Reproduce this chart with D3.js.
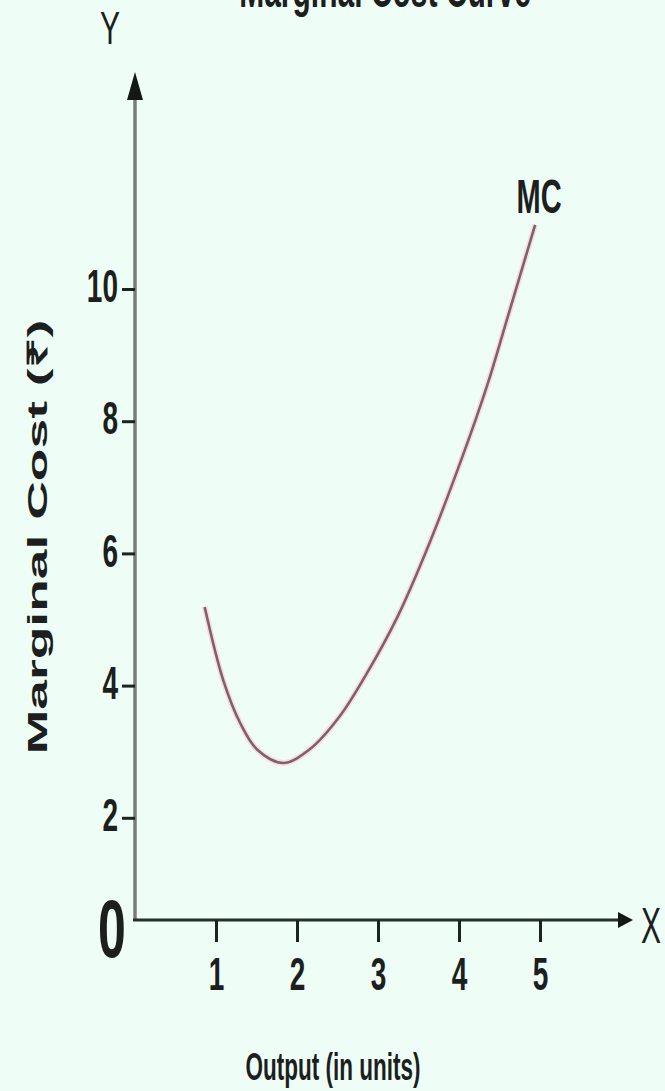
<!DOCTYPE html>
<html>
<head>
<meta charset="utf-8">
<script src="https://cdn.jsdelivr.net/npm/d3@7"></script>
<style>
  html, body { margin: 0; padding: 0; background: #eefef6; }
  svg { display: block; }
  text { font-family: "Liberation Sans", Arial, sans-serif; fill: #1c1f1e; }
</style>
</head>
<body>
<svg id="chart" width="665" height="1091"></svg>
<script>
// ---- data ----
const title = "Marginal Cost Curve";
const xTitle = "Output (in units)";
const yTitle = "Marginal Cost (₹)";
const xTicks = [1, 2, 3, 4, 5];
const yTicks = [2, 4, 6, 8, 10];
const output = [0.86, 1.09, 1.30, 1.51, 1.83, 2.16, 2.53, 2.86, 3.24, 3.64, 4.05, 4.35, 4.59, 4.94];
const mc     = [5.19, 4.08, 3.43, 3.03, 2.83, 3.04, 3.54, 4.18, 5.04, 6.17, 7.49, 8.55, 9.53, 10.97];
const curveLabel = "MC";

// ---- layout ----
const SY = 1.64;               // vertical stretch of the original artwork
const originX = 135, baseY = 920;
const svg = d3.select("#chart");

const x = d3.scaleLinear().domain([0, 5]).range([originX, 540]);
const y = d3.scaleLinear().domain([0, 10]).range([950, 289]);

// title (cut off at top, as in the reference)
svg.append("text")
  .attr("transform", `translate(385,7) scale(1,${SY})`)
  .attr("text-anchor", "middle")
  .attr("font-size", 30).attr("font-weight", "bold")
  .text(title);

// y axis line + arrow
svg.append("line")
  .attr("x1", originX).attr("x2", originX)
  .attr("y1", baseY).attr("y2", 98)
  .attr("stroke", "#7a7c7b").attr("stroke-width", 3.5);
svg.append("path")
  .attr("d", `M${originX},72 L${originX - 8},100 L${originX + 8},100 Z`)
  .attr("fill", "#141816");

// x axis line + arrow
svg.append("line")
  .attr("x1", originX - 2).attr("x2", 625)
  .attr("y1", baseY).attr("y2", baseY)
  .attr("stroke", "#26302b").attr("stroke-width", 3);
svg.append("path")
  .attr("d", `M633,${baseY} L618,${baseY - 8} L618,${baseY + 8} Z`)
  .attr("fill", "#141816");

// y ticks
const yAxis = d3.axisLeft(y).tickValues(yTicks).tickFormat(d3.format("d")).tickSize(13).tickPadding(4);
const gy = svg.append("g").attr("transform", `translate(${originX},0)`).call(yAxis);
gy.select(".domain").remove();
gy.selectAll(".tick line").attr("stroke", "#1c2420").attr("stroke-width", 3);
gy.selectAll(".tick text")
  .attr("font-size", 28).attr("font-weight", "bold")
  .attr("fill", "#222625")
  .attr("font-family", "Liberation Sans, Arial, sans-serif")
  .attr("transform", `translate(0,-3) scale(1,${SY})`)
  .attr("dy", "0.34em");

// x ticks
const xAxis = d3.axisBottom(x).tickValues(xTicks).tickFormat(d3.format("d")).tickSize(22).tickPadding(0);
const gx = svg.append("g").attr("transform", `translate(0,${baseY})`).call(xAxis);
gx.select(".domain").remove();
gx.selectAll(".tick line").attr("stroke", "#1c2420").attr("stroke-width", 3);
gx.selectAll(".tick text")
  .attr("font-size", 28).attr("font-weight", "bold")
  .attr("fill", "#222625")
  .attr("font-family", "Liberation Sans, Arial, sans-serif")
  .attr("y", null)
  .attr("dy", "0.35em")
  .attr("transform", `translate(0,54) scale(1,${SY})`);

// origin "0"
svg.append("text")
  .attr("transform", `translate(112,957) scale(1,${SY})`)
  .attr("text-anchor", "middle")
  .attr("font-size", 50).attr("font-weight", "bold")
  .text("0");

// axis letters
svg.append("text")
  .attr("transform", `translate(110,44) scale(1,${SY * 0.95})`)
  .attr("text-anchor", "middle").attr("font-size", 30)
  .text("Y");
svg.append("text")
  .attr("transform", `translate(651,943) scale(1,${SY})`)
  .attr("text-anchor", "middle").attr("font-size", 30)
  .text("X");

// axis titles
svg.append("text")
  .attr("transform", `translate(333,1080) scale(1,${SY})`)
  .attr("text-anchor", "middle").attr("font-size", 24).attr("font-weight", "bold")
  .attr("textLength", 175).attr("lengthAdjust", "spacingAndGlyphs")
  .text(xTitle);
svg.append("text")
  .attr("transform", `translate(47,537) rotate(-90) scale(${SY},1)`)
  .attr("text-anchor", "middle").attr("font-size", 28).attr("font-weight", "bold")
  .attr("textLength", 265).attr("lengthAdjust", "spacingAndGlyphs")
  .text(yTitle);

// MC curve
const pts = output.map((v, i) => [v, mc[i]]);
const line = d3.line().x(d => x(d[0])).y(d => y(d[1])).curve(d3.curveCatmullRom.alpha(0.5));
svg.append("path").datum(pts).attr("d", line)
  .attr("fill", "none").attr("stroke", "#f8dde4").attr("stroke-width", 6);
svg.append("path").datum(pts).attr("d", line)
  .attr("fill", "none").attr("stroke", "#7d6368").attr("stroke-width", 2.6);

// curve label
const last = pts[pts.length - 1];
svg.append("text")
  .attr("transform", `translate(${x(last[0]) + 4},213) scale(1,${SY})`)
  .attr("text-anchor", "middle").attr("font-size", 29).attr("font-weight", "bold")
  .text(curveLabel);
</script>
</body>
</html>
